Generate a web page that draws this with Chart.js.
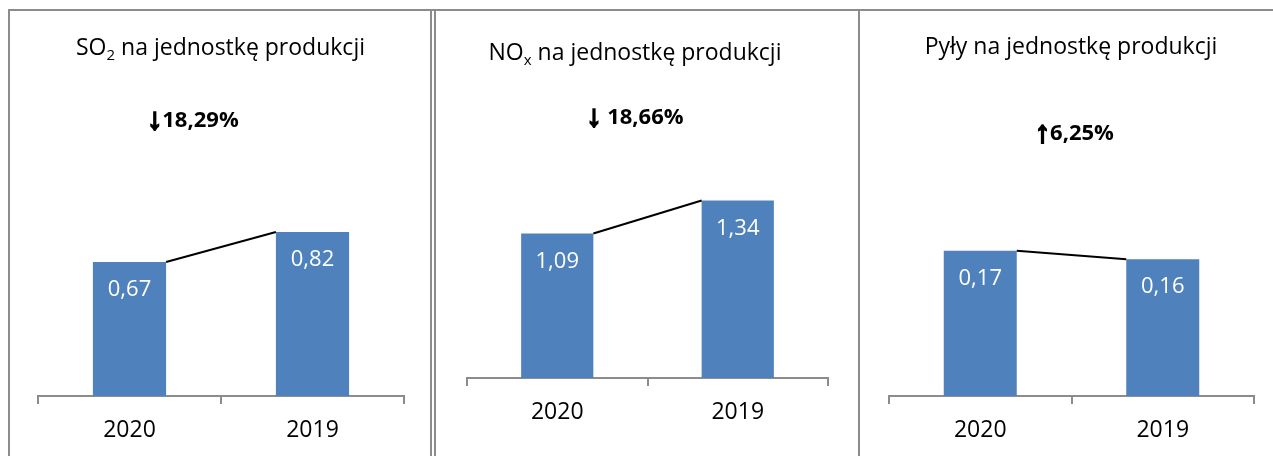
<!DOCTYPE html>
<html><head><meta charset="utf-8">
<script src="https://cdn.jsdelivr.net/npm/chart.js@4"></script>
<style>
html,body{margin:0;padding:0;background:#fff;width:1273px;height:456px;overflow:hidden;position:relative}
.line{position:absolute;background:#8c8c8c}
.wrap{position:absolute;top:11px;height:445px}
canvas{display:block}
</style></head><body>
<div class="line" style="left:8px;top:9px;width:1265px;height:2px"></div>
<div class="line" style="left:8px;top:9px;width:2px;height:447px"></div>
<div class="line" style="left:430px;top:9px;width:2px;height:447px"></div>
<div class="line" style="left:434px;top:9px;width:2px;height:447px"></div>
<div class="line" style="left:858px;top:9px;width:2px;height:447px"></div>
<div class="wrap" style="left:10px;width:420px"><canvas id="c1" width="420" height="445"></canvas></div>
<div class="wrap" style="left:436px;width:422px"><canvas id="c2" width="422" height="445"></canvas></div>
<div class="wrap" style="left:860px;width:413px"><canvas id="c3" width="413" height="445"></canvas></div>
<script>
// ---- data ----
const categories = ['2020', '2019'];
const so2Values = [0.67, 0.82];
const noxValues = [1.09, 1.34];
const pylyValues = [0.17, 0.16];
const so2Title = [['SO', false], ['2', true], [' na jednostkę produkcji', false]];
const noxTitle = [['NO', false], ['x', true], [' na jednostkę produkcji', false]];
const pylyTitle = [['Pyły na jednostkę produkcji', false]];
const so2Change = '↓18,29%';
const noxChange = '↓ 18,66%';
const pylyChange = '↑6,25%';

const FONT = '"Open Sans", "Noto Sans", sans-serif';
const ARROW_FONT = 'bold 30px "Liberation Sans", "DejaVu Sans", sans-serif';
const BAR = '#4F81BD';
const AXIS = '#8c8c8c';

function fmt(v) { return v.toFixed(2).replace('.', ','); }

const panelPlugin = {
  id: 'panel',
  afterDatasetsDraw(chart, args, o) {
    const ctx = chart.ctx;
    const bars = chart.getDatasetMeta(0).data;
    const vals = chart.data.datasets[0].data;
    ctx.save();
    // series line between bar tops
    ctx.strokeStyle = '#000';
    ctx.lineWidth = 2;
    ctx.beginPath();
    ctx.moveTo(bars[0].x + bars[0].width / 2, bars[0].y);
    ctx.lineTo(bars[1].x - bars[1].width / 2, bars[1].y);
    ctx.stroke();
    // value labels
    ctx.fillStyle = '#fff';
    ctx.font = '22px ' + FONT;
    ctx.textAlign = 'center';
    ctx.textBaseline = 'middle';
    bars.forEach((b, i) => ctx.fillText(fmt(vals[i]), b.x, b.y + o.labelOffset));
    // title with subscript
    ctx.fillStyle = '#000';
    ctx.strokeStyle = '#000';
    ctx.textAlign = 'left';
    ctx.textBaseline = 'alphabetic';
    const main = '23px ' + FONT, sub = '15px ' + FONT;
    drawSegments(ctx, o.title.map(([t, s]) => [t, s ? sub : main, s ? 5 : 0, 0]), o.titleX, o.titleY);
    // change label (arrow + bold number)
    const arrow = o.change.charAt(0), rest = o.change.slice(1);
    drawSegments(ctx, [[arrow, ARROW_FONT, 2, 2], [rest, 'bold 22px ' + FONT, 0, 0]], o.changeX, o.changeY);
    ctx.restore();
  }
};

function drawSegments(ctx, segs, cx, y) {
  let total = 0;
  segs.forEach(([t, f]) => { ctx.font = f; total += ctx.measureText(t).width; });
  let x = cx - total / 2;
  segs.forEach(([t, f, dy, sw]) => {
    ctx.font = f;
    ctx.fillText(t, x, y + dy);
    if (sw) { ctx.lineWidth = sw; ctx.lineJoin = 'miter'; ctx.strokeText(t, x, y + dy); }
    x += ctx.measureText(t).width;
  });
}

function makeChart(id, values, yMax, pad, axisH, plug) {
  return new Chart(document.getElementById(id), {
    type: 'bar',
    data: {
      labels: categories,
      datasets: [{
        data: values,
        backgroundColor: BAR,
        borderWidth: 0,
        categoryPercentage: 0.4,
        barPercentage: 1.0
      }]
    },
    options: {
      responsive: false,
      animation: false,
      layout: { padding: pad },
      plugins: { legend: { display: false }, tooltip: { enabled: false }, panel: plug },
      scales: {
        y: { display: false, min: 0, max: yMax },
        x: {
          offset: true,
          afterFit(s) { s.height = axisH; },
          grid: { offset: true, drawOnChartArea: false, drawTicks: true, tickLength: 8, color: AXIS, lineWidth: 2 },
          border: { display: true, color: AXIS, width: 2 },
          ticks: { color: '#000', padding: 13, font: { family: FONT, size: 23 } }
        }
      }
    },
    plugins: [panelPlugin]
  });
}

function build() {
  makeChart('c1', so2Values, 1.0, { top: 185, left: 28, right: 26, bottom: 0 }, 60,
    { title: so2Title, titleX: 210.5, titleY: 44, change: so2Change, changeX: 183, changeY: 116, labelOffset: 28 });
  makeChart('c2', noxValues, 1.6, { top: 155, left: 31, right: 30, bottom: 0 }, 78,
    { title: noxTitle, titleX: 199, titleY: 49, change: noxChange, changeX: 199, changeY: 113, labelOffset: 28 });
  makeChart('c3', pylyValues, 0.2, { top: 214, left: 29, right: 19, bottom: 0 }, 60,
    { title: pylyTitle, titleX: 211, titleY: 43, change: pylyChange, changeX: 214.5, changeY: 129, labelOffset: 28 });
}

if (document.fonts && document.fonts.load) {
  Promise.all([
    document.fonts.load('23px "Open Sans"'),
    document.fonts.load('bold 22px "Open Sans"'),
    document.fonts.load(ARROW_FONT)
  ]).then(build, build);
} else { build(); }
</script>
</body></html>
